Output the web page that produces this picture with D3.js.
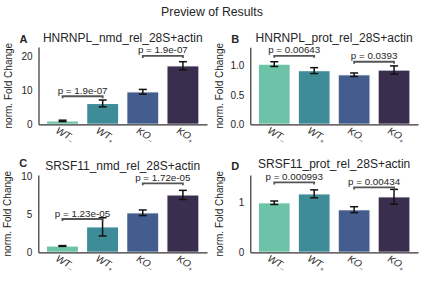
<!DOCTYPE html>
<html><head><meta charset="utf-8">
<script src="https://cdn.jsdelivr.net/npm/d3@7"></script>
<style>
body{margin:0;background:#fff;}
text{font-family:"Liberation Sans",Arial,sans-serif;}
</style></head><body>
<svg id="chart" width="424" height="285"></svg>
<script>
const categories = ["WT", "WT", "KO", "KO"];
const subs = ["-", "+", "-", "+"];
const colors = ["#6cc3a7", "#3f8c99", "#435e8e", "#3a2e4f"];

const titles = ["HNRNPL_nmd_rel_28S+actin", "HNRNPL_prot_rel_28S+actin", "SRSF11_nmd_rel_28S+actin", "SRSF11_prot_rel_28S+actin"];
const letters = ["A", "B", "C", "D"];

const valuesA = [1.0, 6.1, 9.5, 17.1];
const errA = [0.2, 1.0, 0.7, 1.2];
const valuesB = [1.02, 0.91, 0.84, 0.92];
const errB = [0.04, 0.05, 0.03, 0.07];
const valuesC = [0.83, 3.35, 5.2, 7.55];
const errC = [0.05, 1.2, 0.37, 0.6];
const valuesD = [1.0, 1.18, 0.86, 1.12];
const errD = [0.035, 0.08, 0.06, 0.15];

const pLabelsA = ["p = 1.9e-07", "p = 1.9e-07"];
const pLabelsB = ["p = 0.00643", "p = 0.0393"];
const pLabelsC = ["p = 1.23e-05", "p = 1.72e-05"];
const pLabelsD = ["p = 0.000993", "p = 0.00434"];
const bracketA = [8.2, 20.0];
const bracketB = [1.16, 1.06];
const bracketC = [4.38, 9.08];
const bracketD = [1.41, 1.31];

const ticksA = [0, 10, 20];
const ticksB = [0.0, 0.5, 1.0];
const ticksC = [0, 5, 10];
const ticksD = [0, 1];

const panels = [
  {vals: valuesA, errs: errA, p: pLabelsA, br: bracketA, ticks: ticksA, fmt: d3.format("d"), ymax: 22.6, left: 38.5, right: 207, top: 47, bottom: 124.3, titleDy: 5, letterDy: 4},
  {vals: valuesB, errs: errB, p: pLabelsB, br: bracketB, ticks: ticksB, fmt: d3.format(".1f"), ymax: 1.305, left: 250.3, right: 418, top: 47.3, bottom: 124.3, titleDy: 5, letterDy: 4},
  {vals: valuesC, errs: errC, p: pLabelsC, br: bracketC, ticks: ticksC, fmt: d3.format("d"), ymax: 10.17, left: 38.3, right: 207, top: 175, bottom: 252.3, titleDy: 5, letterDy: 8},
  {vals: valuesD, errs: errD, p: pLabelsD, br: bracketD, ticks: ticksD, fmt: d3.format("d"), ymax: 1.56, left: 250.3, right: 418, top: 175, bottom: 252.3, titleDy: 7, letterDy: 5}
];

const svg = d3.select("#chart");
svg.append("text").attr("x", 212).attr("y", 16).attr("text-anchor", "middle")
  .attr("font-size", 12.3).attr("fill", "#262626").text("Preview of Results");

panels.forEach((P, pi) => {
  const x = d3.scaleLinear().domain([-0.6, 3.6]).range([P.left, P.right]);
  const y = d3.scaleLinear().domain([0, P.ymax]).range([P.bottom, P.top]);
  const g = svg.append("g");
  const bw = x(0.8) - x(0);

  g.selectAll("rect.bar").data(P.vals).join("rect")
    .attr("x", (d, i) => x(i) - bw / 2).attr("width", bw)
    .attr("y", d => y(d)).attr("height", d => y(0) - y(d))
    .attr("fill", (d, i) => colors[i]).attr("stroke", "#fff").attr("stroke-width", 1.2);

  P.vals.forEach((v, i) => {
    const e = P.errs[i];
    const cx = x(i);
    g.append("line").attr("x1", cx).attr("x2", cx).attr("y1", y(v - e)).attr("y2", y(v + e))
      .attr("stroke", "#111").attr("stroke-width", 1.5);
    [v - e, v + e].forEach(t => g.append("line").attr("x1", cx - 4).attr("x2", cx + 4)
      .attr("y1", y(t)).attr("y2", y(t)).attr("stroke", "#111").attr("stroke-width", 1.5));
  });

  const yAxis = d3.axisLeft(y).tickValues(P.ticks).tickFormat(P.fmt).tickSize(0).tickPadding(6);
  const ya = g.append("g").attr("transform", `translate(${P.left},0)`).call(yAxis);
  ya.select(".domain").attr("stroke", "#333").attr("stroke-width", 1.2);
  ya.selectAll("text").attr("font-size", 10).attr("fill", "#262626").attr("font-family", "Liberation Sans, Arial, sans-serif");

  const xa = g.append("g").attr("transform", `translate(0,${P.bottom})`)
    .call(d3.axisBottom(x).tickValues([]).tickSize(0));
  xa.select(".domain").attr("stroke", "#333").attr("stroke-width", 1.2);

  categories.forEach((c, i) => {
    const t = g.append("text")
      .attr("transform", `translate(${x(i) + 1},${P.bottom + 13}) rotate(30)`)
      .attr("text-anchor", "middle").attr("font-size", 10).attr("fill", "#262626");
    t.append("tspan").attr("font-style", "italic").text(c);
    t.append("tspan").attr("font-size", 7).attr("dy", 2.5).text(subs[i] === "-" ? "\u2212" : "+");
  });

  [[0, 1], [2, 3]].forEach((pair, k) => {
    const yb = y(P.br[k]);
    const x1 = x(pair[0]), x2 = x(pair[1]);
    g.append("path").attr("d", `M${x1},${yb + 2}V${yb}H${x2}V${yb + 2}`)
      .attr("fill", "none").attr("stroke", "#555").attr("stroke-width", 1.8);
    g.append("text").attr("x", (x1 + x2) / 2).attr("y", yb - 2.5).attr("text-anchor", "middle")
      .attr("font-size", 9.8).attr("fill", "#262626").text(P.p[k]);
  });

  g.append("text").attr("x", (P.left + P.right) / 2).attr("y", P.top - P.titleDy).attr("text-anchor", "middle")
    .attr("font-size", 12).attr("fill", "#262626").text(titles[pi]);
  g.append("text").attr("x", P.left - 15).attr("y", P.top - P.letterDy).attr("text-anchor", "middle")
    .attr("font-size", 11).attr("font-weight", "bold")
    .attr("fill", "#262626").text(letters[pi]);
  g.append("text").attr("transform", `translate(${P.left - 27},${(P.top + P.bottom) / 2}) rotate(-90)`)
    .attr("text-anchor", "middle").attr("font-size", 10).attr("fill", "#262626").text("norm. Fold Change");
});
</script></body></html>
